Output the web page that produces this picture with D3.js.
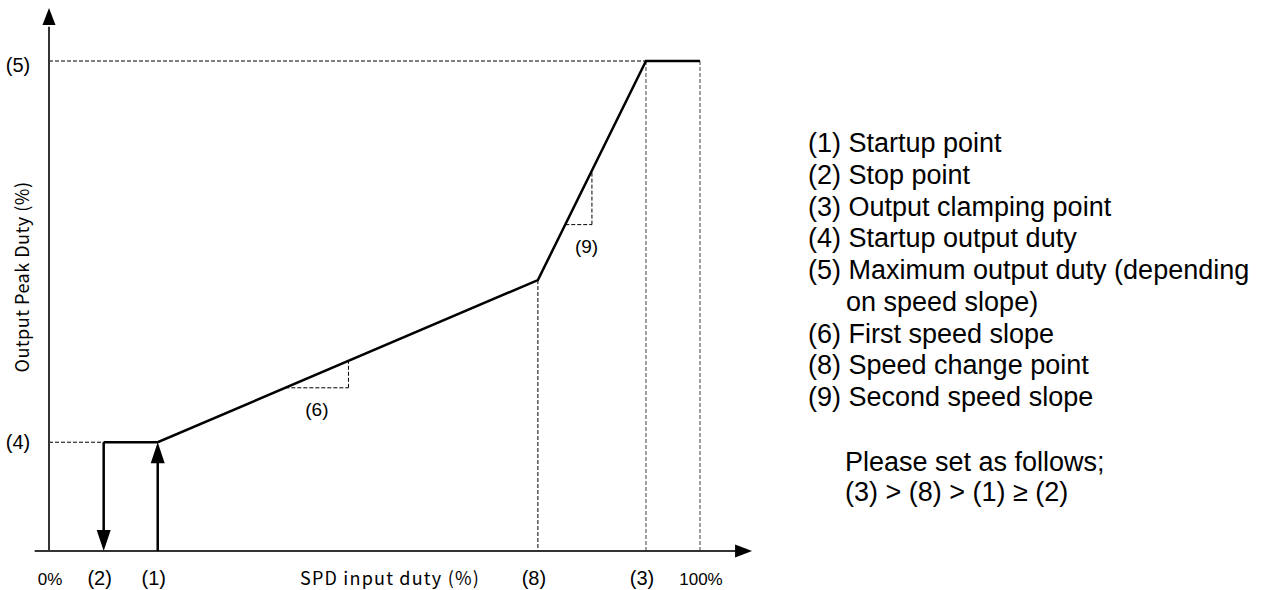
<!DOCTYPE html>
<html>
<head>
<meta charset="utf-8">
<script src="https://cdn.jsdelivr.net/npm/d3@7"></script>
<style>
    body { margin: 0; background: #fff; }
    svg { display: block; }
    .lbl { font-family: "Liberation Sans", Arial, sans-serif; fill: #000; }
    .jp { font-family: "Noto Sans CJK JP", sans-serif; fill: #000; }
</style>
</head>
<body>
<div class="chart"></div>
<script>
// SPD input positions (% input duty)
const pointNames = ["(2)", "(1)", "(8)", "(3)"];
const pointInput = [8.4, 16.7, 75.1, 91.7];
const endNames = ["0%", "100%"];
const endInput = [0, 100];

// output duty levels (%)
const dutyNames = ["(5)", "(4)"];
const dutyLevels = [100, 22.2];

// output curve: stop -> startup -> speed change -> clamp -> 100%
const curveInput = [8.4, 16.7, 75.1, 91.7, 100];
const curveDuty = [22.2, 22.2, 55.3, 100, 100];

// little slope triangles under the curve
const slopeNames = ["(6)", "(9)"];
const slopeFrom = [36.3, 79.3];
const slopeTo = [46.0, 83.4];

const legendLines = [
    "(1) Startup point",
    "(2) Stop point",
    "(3) Output clamping point",
    "(4) Startup output duty",
    "(5) Maximum output duty (depending",
    "on speed slope)",
    "(6) First speed slope",
    "(8) Speed change point",
    "(9) Second speed slope"
];
const noteLines = ["Please set as follows;", "(3) > (8) > (1) \u2265 (2)"];

const config = {
    width: 1277,
    height: 590,
    axisColor: "#333",
    guideColor: "#777"
};

const svg = d3.select(".chart").append("svg")
    .attr("width", config.width)
    .attr("height", config.height);

const x = d3.scaleLinear().domain([0, 100]).range([49, 700]);
const y = d3.scaleLinear().domain([0, 100]).range([551, 61]);

// value of the curve at a given input
const curveAt = d3.scaleLinear().domain(curveInput).range(curveDuty);

function dashed(x1, y1, x2, y2, color, w) {
    svg.append("line")
        .attr("x1", x1).attr("y1", y1).attr("x2", x2).attr("y2", y2)
        .attr("stroke", color)
        .attr("stroke-width", w)
        .attr("stroke-dasharray", "4,2");
}

function arrowHead(tx, ty, dir, len, half) {
    // dir: "up", "down", "right"
    let pts;
    if (dir === "up") pts = [[tx, ty], [tx - half, ty + len], [tx + half, ty + len]];
    else if (dir === "down") pts = [[tx, ty], [tx - half, ty - len], [tx + half, ty - len]];
    else pts = [[tx, ty], [tx - len, ty - half], [tx - len, ty + half]];
    svg.append("path")
        .attr("d", d3.line()(pts) + "Z")
        .attr("fill", "#000");
}

// guides
dashed(x(0), y(dutyLevels[0]), x(pointInput[3]), y(dutyLevels[0]), "#000", 1);
dashed(x(0), y(dutyLevels[1]), x(pointInput[0]), y(dutyLevels[1]), "#000", 1);
dashed(x(pointInput[2]), y(curveAt(pointInput[2])), x(pointInput[2]), y(0), "#000", 1);
dashed(x(pointInput[3]), y(dutyLevels[0]), x(pointInput[3]), y(0), config.guideColor, 1.4);
dashed(x(100), y(dutyLevels[0]), x(100), y(0), config.guideColor, 1.4);

// slope triangles
slopeFrom.forEach((s, i) => {
    const e = slopeTo[i];
    dashed(x(s), y(curveAt(s)), x(e), y(curveAt(s)), "#000", 1);
    dashed(x(e), y(curveAt(s)), x(e), y(curveAt(e)), "#000", 1);
});

// axes
svg.append("line")
    .attr("x1", x(-2.2)).attr("y1", y(0)).attr("x2", x(106)).attr("y2", y(0))
    .attr("stroke", config.axisColor).attr("stroke-width", 2);
arrowHead(x(108), y(0), "right", 17, 6.5);
svg.append("line")
    .attr("x1", x(0)).attr("y1", y(0)).attr("x2", x(0)).attr("y2", y(107))
    .attr("stroke", config.axisColor).attr("stroke-width", 2);
arrowHead(x(0), y(110.8), "up", 17, 6.5);

// output curve
svg.append("path")
    .datum(curveInput.map((v, i) => [v, curveDuty[i]]))
    .attr("d", d3.line().x(d => x(d[0])).y(d => y(d[1])))
    .attr("fill", "none")
    .attr("stroke", "#000")
    .attr("stroke-width", 2.5);

// stop arrow (down) and startup arrow (up)
svg.append("line")
    .attr("x1", x(pointInput[0])).attr("y1", y(dutyLevels[1]))
    .attr("x2", x(pointInput[0])).attr("y2", y(0) - 15)
    .attr("stroke", "#000").attr("stroke-width", 2.5);
arrowHead(x(pointInput[0]), y(0), "down", 21, 7);
svg.append("line")
    .attr("x1", x(pointInput[1])).attr("y1", y(0))
    .attr("x2", x(pointInput[1])).attr("y2", y(dutyLevels[1]) + 15)
    .attr("stroke", "#000").attr("stroke-width", 2.5);
arrowHead(x(pointInput[1]), y(dutyLevels[1]), "up", 21, 7);

// x labels
svg.selectAll("text.px")
    .data(pointNames)
    .join("text")
    .attr("class", "px lbl")
    .attr("x", (d, i) => x(pointInput[i]) - 4)
    .attr("y", 585)
    .attr("text-anchor", "middle")
    .attr("font-size", 20)
    .text(d => d);
svg.selectAll("text.ex")
    .data(endNames)
    .join("text")
    .attr("class", "ex lbl")
    .attr("x", (d, i) => x(endInput[i]) + 1)
    .attr("y", 585)
    .attr("text-anchor", "middle")
    .attr("font-size", 17)
    .text(d => d);
svg.append("text")
    .attr("class", "jp")
    .attr("x", 300)
    .attr("y", 585)
    .attr("font-size", 18)
    .attr("letter-spacing", 1.2)
    .text("SPD input duty (%)");

// y labels
svg.selectAll("text.py")
    .data(dutyNames)
    .join("text")
    .attr("class", "py lbl")
    .attr("x", 18)
    .attr("y", (d, i) => y(dutyLevels[i]) + 7 + (i === 0 ? 4 : 0))
    .attr("text-anchor", "middle")
    .attr("font-size", 20)
    .text(d => d);
svg.append("text")
    .attr("class", "jp")
    .attr("transform", "translate(29,277) rotate(-90)")
    .attr("text-anchor", "middle")
    .attr("font-size", 18)
    .attr("letter-spacing", 0.5)
    .text("Output Peak Duty (%)");

// slope labels
svg.selectAll("text.sl")
    .data(slopeNames)
    .join("text")
    .attr("class", "sl lbl")
    .attr("x", (d, i) => x((slopeFrom[i] + slopeTo[i]) / 2) + (i === 0 ? 0 : 8))
    .attr("y", (d, i) => y(curveAt(slopeFrom[i])) + 28)
    .attr("text-anchor", "middle")
    .attr("font-size", 19)
    .text(d => d);

// legend
const legend = svg.append("g").attr("transform", "translate(808,152)");
legend.selectAll("text")
    .data(legendLines)
    .join("text")
    .attr("class", "lbl")
    .attr("x", d => d.startsWith("(") ? 0 : 38)
    .attr("y", (d, i) => i * 31.75)
    .attr("font-size", 27)
    .text(d => d);
legend.selectAll("text.note")
    .data(noteLines)
    .join("text")
    .attr("class", "note lbl")
    .attr("x", 37)
    .attr("y", (d, i) => 319 + i * 30)
    .attr("font-size", 27)
    .text(d => d);
</script>
</body>
</html>
